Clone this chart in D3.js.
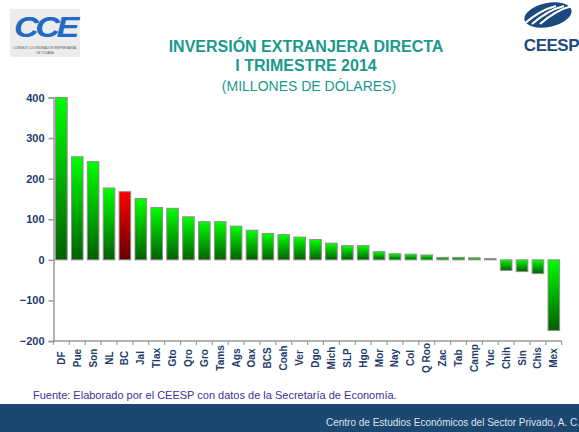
<!DOCTYPE html>
<html>
<head>
<meta charset="utf-8">
<script src="https://cdn.jsdelivr.net/npm/d3@7"></script>
<style>
  body { margin: 0; background: #fff; }
  svg { display: block; font-family: "Liberation Sans", Arial, sans-serif; }
</style>
</head>
<body>
<div id="chart"></div>
<script>
// states, ordered as in the chart
const states = ['DF', 'Pue', 'Son', 'NL', 'BC', 'Jal', 'Tlax', 'Gto', 'Qro', 'Gro', 'Tams', 'Ags',
  'Oax', 'BCS', 'Coah', 'Ver', 'Dgo', 'Mich', 'SLP', 'Hgo', 'Mor', 'Nay', 'Col', 'Q Roo',
  'Zac', 'Tab', 'Camp', 'Yuc', 'Chih', 'Sin', 'Chis', 'Mex'];
// millones de dolares
const values = [400, 254, 242, 177, 168, 151, 129, 127, 106, 94, 94, 83,
  73, 65, 62, 56, 50, 41, 35, 35, 20, 15, 14, 12,
  6, 6, 5, 3, -26, -29, -34, -174];
const highlight = ['BC'];
const yTicks = [-200, -100, 0, 100, 200, 300, 400];

const W = 579, H = 432;
const svg = d3.select('#chart').append('svg')
  .attr('width', W)
  .attr('height', H);

const defs = svg.append('defs');
function grad(id, top, bottom) {
  const g = defs.append('linearGradient').attr('id', id)
    .attr('x1', 0).attr('y1', 0).attr('x2', 0).attr('y2', 1);
  g.append('stop').attr('offset', '0%').attr('stop-color', top);
  g.append('stop').attr('offset', '100%').attr('stop-color', bottom);
}
grad('gGreen', '#00ff00', '#005f00');
grad('gRed', '#ff0000', '#640000');

// logos (rough)
const logoL = svg.append('g');
logoL.append('rect').attr('x', 10).attr('y', 9).attr('width', 70).attr('height', 48).attr('fill', '#ececec');
logoL.append('text').attr('x', 45).attr('y', 37).attr('text-anchor', 'middle')
  .attr('font-size', 30).attr('font-weight', 900).attr('font-style', 'italic')
  .attr('fill', '#2468c6').attr('letter-spacing', -3)
  .attr('textLength', 62).attr('lengthAdjust', 'spacingAndGlyphs').text('CCE');
logoL.append('text').attr('x', 45).attr('y', 49).attr('text-anchor', 'middle')
  .attr('font-size', 3.2).attr('fill', '#555').text('CONSEJO COORDINADOR EMPRESARIAL');
logoL.append('text').attr('x', 45).attr('y', 53.5).attr('text-anchor', 'middle')
  .attr('font-size', 3).attr('fill', '#555').text('DE TIJUANA');

const logoR = svg.append('g');
logoR.append('ellipse').attr('cx', 548).attr('cy', 15).attr('rx', 24).attr('ry', 12)
  .attr('transform', 'rotate(-12,548,15)').attr('fill', '#1b4a7c');
[-8, 0, 8].forEach(d => {
  logoR.append('path')
    .attr('d', `M${532 + d},${24} Q${548 + d},${10} ${564 + d},${6}`)
    .attr('stroke', '#fff').attr('stroke-width', 2).attr('fill', 'none');
});
logoR.append('text').attr('x', 579).attr('y', 51).attr('text-anchor', 'end')
  .attr('font-size', 17).attr('font-weight', 'bold').attr('fill', '#1b4a7c')
  .attr('letter-spacing', -0.5).text('CEESP');

// titles
const teal = '#1a9a8c';
svg.append('text').attr('x', 306).attr('y', 52).attr('text-anchor', 'middle')
  .attr('font-size', 16).attr('font-weight', 'bold').attr('fill', teal)
  .text('INVERSIÓN EXTRANJERA DIRECTA');
svg.append('text').attr('x', 306).attr('y', 70.5).attr('text-anchor', 'middle')
  .attr('font-size', 16).attr('font-weight', 'bold').attr('fill', teal)
  .text('I TRIMESTRE 2014');
svg.append('text').attr('x', 309).attr('y', 91).attr('text-anchor', 'middle')
  .attr('font-size', 14).attr('fill', teal)
  .text('(MILLONES DE DÓLARES)');

// scales
const x = d3.scaleBand().domain(states).range([53.5, 561.7])
  .paddingInner(0.27).paddingOuter(0.13);
const y = d3.scaleLinear().domain([-200, 400]).range([341, 97.5]);

const axisColor = '#9a9a9a';
const labelColor = '#1f3b6b';

// y axis
const yAxis = svg.append('g').attr('transform', 'translate(53.5,0)')
  .call(d3.axisLeft(y).tickValues(yTicks).tickSize(5).tickPadding(4).tickFormat(d3.format('d')));
yAxis.select('.domain').attr('stroke', axisColor).attr('stroke-width', 1.5);
yAxis.selectAll('.tick line').attr('stroke', axisColor).attr('stroke-width', 1.5);
yAxis.selectAll('.tick text').attr('font-size', 11).attr('font-weight', 'bold')
  .attr('fill', labelColor).attr('font-family', '"Liberation Sans", Arial, sans-serif');

// x axis at bottom with ticks between categories
const xAxis = svg.append('g').attr('transform', `translate(0,${y(-200)})`);
xAxis.append('line').attr('x1', 53.5).attr('x2', 561.7)
  .attr('stroke', axisColor).attr('stroke-width', 1.5);
const step = x.step();
const bounds = states.map(s => x(s) - step * x.paddingInner() / 2).concat([561.7]);
xAxis.selectAll('line.tk').data(bounds).enter().append('line').attr('class', 'tk')
  .attr('x1', d => d).attr('x2', d => d).attr('y1', 0).attr('y2', 4)
  .attr('stroke', axisColor).attr('stroke-width', 1.2);
xAxis.selectAll('text').data(states).enter().append('text')
  .attr('transform', d => `translate(${x(d) + x.bandwidth() / 2 + 3.5},17) rotate(-90)`)
  .attr('text-anchor', 'middle')
  .attr('font-size', 10).attr('font-weight', 'bold').attr('fill', labelColor)
  .text(d => d);

// bars
const data = states.map((s, i) => ({ name: s, value: values[i] }));
svg.append('g').selectAll('rect').data(data).enter().append('rect')
  .attr('x', d => x(d.name))
  .attr('y', d => y(Math.max(0, d.value)))
  .attr('width', x.bandwidth())
  .attr('height', d => Math.abs(y(d.value) - y(0)))
  .attr('fill', d => highlight.includes(d.name) ? 'url(#gRed)' : 'url(#gGreen)')
  .attr('stroke', '#8f8f8f')
  .attr('stroke-width', 1);

// source note
svg.append('text').attr('x', 33).attr('y', 399)
  .attr('font-size', 11).attr('fill', '#3a3399')
  .text('Fuente: Elaborado por el CEESP con datos de la Secretaría de Economía.');

// footer band
svg.append('rect').attr('x', 0).attr('y', 404).attr('width', W).attr('height', H - 404)
  .attr('fill', '#1b4771');
svg.append('text').attr('x', 580).attr('y', 426).attr('text-anchor', 'end')
  .attr('font-size', 10).attr('fill', '#dfe4ea')
  .text('Centro de Estudios Económicos del Sector Privado, A. C.');
</script>
</body>
</html>
